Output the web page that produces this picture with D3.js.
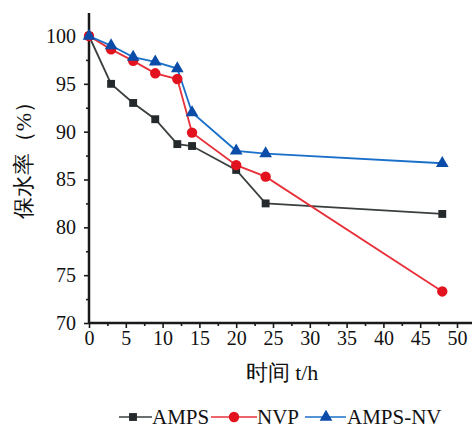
<!DOCTYPE html>
<html>
<head>
<meta charset="UTF-8">
<style>
  body { margin: 0; background: #fff; }
  svg text { font-family: "Liberation Serif", "Times New Roman", serif; fill: #111; }
</style>
</head>
<body>
<svg></svg>
<script src="https://d3js.org/d3.v7.min.js"></script>
<script>
let width = 473, height = 429;

// data
var hours = [0, 3, 6, 9, 12, 14, 20, 24, 48];
var amps = [100, 95.0, 93.0, 91.3, 88.7, 88.5, 86.0, 82.5, 81.4];
var nvp = [100, 98.6, 97.4, 96.1, 95.5, 89.9, 86.5, 85.3, 73.3];
var ampsNv = [100, 99.0, 97.8, 97.3, 96.6, 92.0, 88.0, 87.7, 86.7];
var seriesNames = ["AMPS", "NVP", "AMPS-NV"];
var xTicks = [0, 5, 10, 15, 20, 25, 30, 35, 40, 45, 50];
var yTicks = [70, 75, 80, 85, 90, 95, 100];

var serif = "'Liberation Serif', 'Times New Roman', serif";

var svg = d3.select("svg").attr("width", width).attr("height", height);

var x = d3.scaleLinear().domain([0, 50]).range([89, 457]);
var y = d3.scaleLinear().domain([70, 100]).range([323, 36]);

var series = [
  { name: seriesNames[0], values: amps, line: "#3b3f3f", mark: "#24292b", shape: d3.symbolSquare, size: 62 },
  { name: seriesNames[1], values: nvp, line: "#e8303a", mark: "#e2131f", shape: d3.symbolCircle, size: 85 },
  { name: seriesNames[2], values: ampsNv, line: "#1a6fc9", mark: "#0b4ca8", shape: d3.symbolTriangle, size: 70 }
];

// axes
var xAxis = svg.append("g").attr("transform", "translate(0," + y(70) + ")")
  .call(d3.axisBottom(x).tickValues(xTicks).tickSize(5).tickPadding(3).tickFormat(d3.format("d")));
var yAxis = svg.append("g").attr("transform", "translate(" + x(0) + ",0)")
  .call(d3.axisLeft(y).tickValues(yTicks).tickSize(5).tickPadding(8).tickFormat(d3.format("d")));

// minor ticks
svg.append("g").attr("transform", "translate(0," + y(70) + ")")
  .call(d3.axisBottom(x).tickValues(d3.range(2.5, 51, 5)).tickSize(3).tickFormat(""))
  .select(".domain").remove();
svg.append("g").attr("transform", "translate(" + x(0) + ",0)")
  .call(d3.axisLeft(y).tickValues(d3.range(72.5, 101, 5)).tickSize(3).tickFormat(""))
  .select(".domain").remove();

[xAxis, yAxis].forEach(function(a) {
  a.attr("font-family", serif).attr("font-size", 20);
  a.selectAll("text").attr("fill", "#111");
  a.select(".domain").remove();
});
svg.selectAll("g line").attr("stroke", "#1a1a1a").attr("stroke-width", 1.6);

// axis lines (extend a bit past last tick like the original)
svg.append("line").attr("x1", x(0)).attr("x2", 472).attr("y1", y(70)).attr("y2", y(70))
  .attr("stroke", "#1a1a1a").attr("stroke-width", 2.5);
svg.append("line").attr("x1", x(0)).attr("x2", x(0)).attr("y1", y(70) + 1).attr("y2", 13)
  .attr("stroke", "#1a1a1a").attr("stroke-width", 2.5);

// lines
var line = d3.line().x(function(d, i) { return x(hours[i]); }).y(function(d) { return y(d); });

series.forEach(function(s) {
  svg.append("path").datum(s.values)
    .attr("d", line)
    .attr("fill", "none")
    .attr("stroke", s.line)
    .attr("stroke-width", 1.8);
});
series.forEach(function(s) {
  svg.append("g").selectAll("path")
    .data(s.values)
    .enter()
    .append("path")
    .attr("d", d3.symbol().type(s.shape).size(s.size))
    .attr("transform", function(d, i) { return "translate(" + x(hours[i]) + "," + y(d) + ")"; })
    .attr("fill", s.mark);
});

// axis titles
svg.append("text").attr("x", 282).attr("y", 380).attr("text-anchor", "middle")
  .style("font-size", "22px").text("时间 t/h");
svg.append("text").attr("transform", "translate(31,155) rotate(-90)").attr("text-anchor", "middle")
  .style("font-size", "22px").text("保水率（%）");

// legend
var legendItems = [
  { x1: 119, x2: 152, mx: 133, tx: 152 },
  { x1: 211, x2: 257, mx: 234, tx: 257 },
  { x1: 305, x2: 346, mx: 326, tx: 347 }
];
var legend = svg.selectAll(".legend")
  .data(series)
  .enter()
  .append("g")
  .attr("class", "legend");
legend.append("line")
  .attr("x1", function(d, i) { return legendItems[i].x1; })
  .attr("x2", function(d, i) { return legendItems[i].x2; })
  .attr("y1", 417).attr("y2", 417)
  .attr("stroke", function(d) { return d.line; })
  .attr("stroke-width", 1.6);
legend.append("path")
  .attr("d", function(d) { return d3.symbol().type(d.shape).size(d.size)(); })
  .attr("transform", function(d, i) { return "translate(" + legendItems[i].mx + ",417)"; })
  .attr("fill", function(d) { return d.mark; });
legend.append("text")
  .attr("x", function(d, i) { return legendItems[i].tx; })
  .attr("y", 424)
  .style("font-size", "21px")
  .text(function(d) { return d.name; });
</script>
</body>
</html>
